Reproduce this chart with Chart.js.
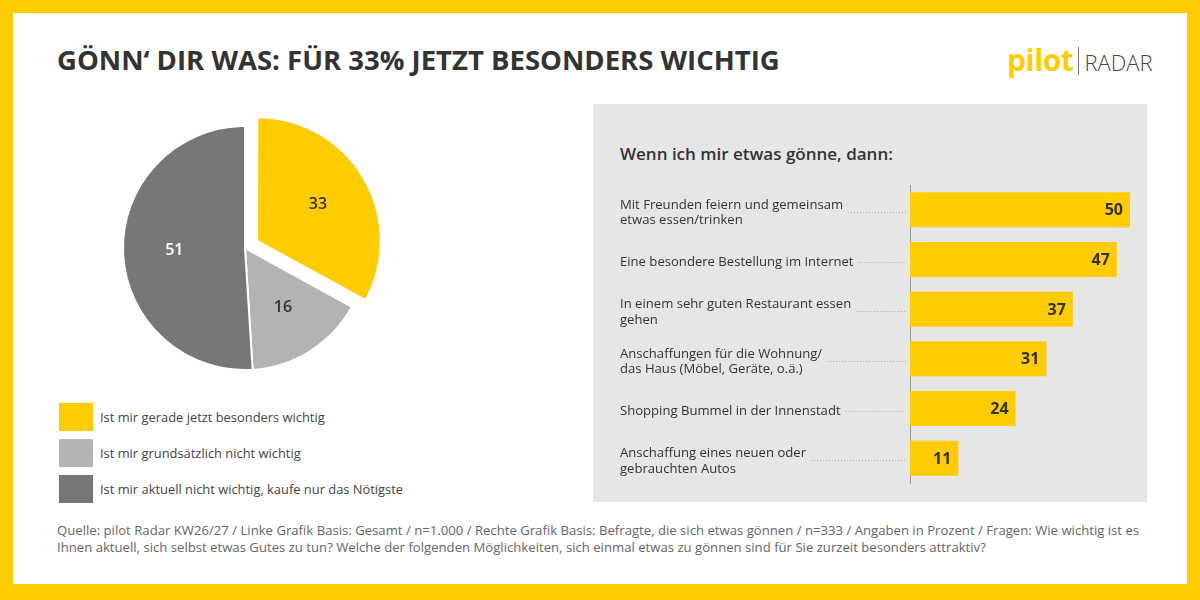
<!DOCTYPE html>
<html>
<head>
<meta charset="utf-8">
<script src="https://cdn.jsdelivr.net/npm/chart.js@4.4.1/dist/chart.umd.min.js"></script>
<style>
html, body { margin: 0; padding: 0; }
body { width: 1200px; height: 600px; background: #FFCC00; position: relative; overflow: hidden; font-family: "Open Sans", sans-serif; color: #333; }
#card { position: absolute; left: 13px; top: 13px; width: 1174px; height: 571px; background: #fff; }
#title { position: absolute; left: 57px; top: 46px; font-size: 27.5px; font-weight: 700; line-height: 1; color: #333; white-space: nowrap; }
#logo { position: absolute; left: 1007px; top: 45px; height: 40px; white-space: nowrap; line-height: 1; }
#logo .p { color: #FFCC00; font-weight: 700; font-size: 30px; letter-spacing: -0.5px; }
#logo .sep { display: inline-block; width: 1px; height: 28px; background: #777; margin: 0 5px 0 5px; vertical-align: -4px; }
#logo .r { color: #444; font-size: 22px; font-weight: 300; }
#panel { position: absolute; left: 593px; top: 104px; width: 554px; height: 398px; background: #E6E6E6; }
#panelTitle { position: absolute; left: 620px; top: 142px; font-size: 17px; font-weight: 600; color: #333; white-space: nowrap; }
#barWrap { position: absolute; left: 593px; top: 104px; width: 554px; height: 398px; }
#pieWrap { position: absolute; left: 95px; top: 98px; width: 300px; height: 300px; }
#legend { position: absolute; left: 59px; top: 403px; }
#legend .item { height: 28px; margin-bottom: 8px; display: flex; align-items: center; font-size: 12.9px; color: #444; white-space: nowrap; }
#legend .box { width: 34px; height: 28px; margin-right: 7px; }
#source { position: absolute; left: 57px; top: 522px; font-size: 13.15px; line-height: 17px; color: #666; white-space: nowrap; }
</style>
</head>
<body>
<div id="card"></div>
<div id="title">GÖNN‘ DIR WAS: FÜR 33% JETZT BESONDERS WICHTIG</div>
<div id="logo"><span class="p">pilot</span><span class="sep"></span><span class="r">RADAR</span></div>
<div id="panel"></div>
<div id="panelTitle">Wenn ich mir etwas gönne, dann:</div>
<div id="barWrap"><canvas id="barChart"></canvas></div>
<div id="pieWrap"><canvas id="pieChart"></canvas></div>
<div id="legend"></div>
<div id="source">Quelle: pilot Radar KW26/27 / Linke Grafik Basis: Gesamt / n=1.000 / Rechte Grafik Basis: Befragte, die sich etwas gönnen / n=333 / Angaben in Prozent / Fragen: Wie wichtig ist es<br>Ihnen aktuell, sich selbst etwas Gutes zu tun? Welche der folgenden Möglichkeiten, sich einmal etwas zu gönnen sind für Sie zurzeit besonders attraktiv?</div>

<script>
// left chart
var pieLabels = ["Ist mir gerade jetzt besonders wichtig", "Ist mir grundsätzlich nicht wichtig", "Ist mir aktuell nicht wichtig, kaufe nur das Nötigste"];
var pieValues = [33, 16, 51];

// right chart
var barLabels = [
  ["Mit Freunden feiern und gemeinsam", "etwas essen/trinken"],
  ["Eine besondere Bestellung im Internet"],
  ["In einem sehr guten Restaurant essen", "gehen"],
  ["Anschaffungen für die Wohnung/", "das Haus (Möbel, Geräte, o.ä.)"],
  ["Shopping Bummel in der Innenstadt"],
  ["Anschaffung eines neuen oder", "gebrauchten Autos"]
];
var barValues = [50, 47, 37, 31, 24, 11];

var FONT = '"Open Sans", sans-serif';
var pieColors = ["#FFCC00", "#B3B3B3", "#777777"];
var pieTextColors = ["#333333", "#333333", "#ffffff"];

// html legend from the pie arrays
var legend = document.getElementById("legend");
for (var i = 0; i < pieLabels.length; i++) {
  var item = document.createElement("div");
  item.className = "item";
  item.innerHTML = '<div class="box" style="background:' + pieColors[i] + '"></div>' + pieLabels[i];
  legend.appendChild(item);
}

var pieValueLabels = {
  id: "pieValueLabels",
  afterDatasetsDraw: function (chart) {
    var ctx = chart.ctx;
    var arcs = chart.getDatasetMeta(0).data;
    ctx.save();
    ctx.font = "600 16px " + FONT;
    ctx.textAlign = "center";
    ctx.textBaseline = "middle";
    arcs.forEach(function (arc, i) {
      var mid = (arc.startAngle + arc.endAngle) / 2;
      // arc draws its offset divided by 4
      var r = arc.outerRadius * 0.58 + (arc.options.offset || 0) / 4;
      ctx.fillStyle = pieTextColors[i];
      ctx.fillText(String(pieValues[i]), arc.x + Math.cos(mid) * r, arc.y + Math.sin(mid) * r);
    });
    ctx.restore();
  }
};

new Chart(document.getElementById("pieChart"), {
  type: "pie",
  data: {
    labels: pieLabels,
    datasets: [{
      data: pieValues,
      backgroundColor: pieColors,
      borderColor: "#ffffff",
      borderWidth: 2,
      offset: [56, 0, 0]
    }]
  },
  options: {
    responsive: true,
    maintainAspectRatio: false,
    animation: false,
    radius: 122,
    plugins: { legend: { display: false }, tooltip: { enabled: false } }
  },
  plugins: [pieValueLabels]
});

var barExtras = {
  id: "barExtras",
  afterDatasetsDraw: function (chart) {
    var ctx = chart.ctx;
    var yScale = chart.scales.y;
    var bars = chart.getDatasetMeta(0).data;
    ctx.save();
    // dotted leaders from label to axis
    ctx.font = "13.1px " + FONT;
    ctx.strokeStyle = "#aaaaaa";
    ctx.lineWidth = 1;
    ctx.setLineDash([1, 2]);
    barLabels.forEach(function (lines, i) {
      var y = Math.round(yScale.getPixelForValue(i)) + 2.5;
      var x0 = yScale.left + ctx.measureText(lines[0]).width + 5;
      ctx.beginPath();
      ctx.moveTo(x0, y);
      ctx.lineTo(yScale.right - 4, y);
      ctx.stroke();
    });
    ctx.setLineDash([]);
    // values at bar ends
    ctx.font = "700 16px " + FONT;
    ctx.fillStyle = "#333333";
    ctx.textAlign = "right";
    ctx.textBaseline = "middle";
    bars.forEach(function (bar, i) {
      ctx.fillText(String(barValues[i]), bar.x - 7, bar.y + 1);
    });
    ctx.restore();
  }
};

new Chart(document.getElementById("barChart"), {
  type: "bar",
  data: {
    labels: barLabels,
    datasets: [{
      data: barValues,
      backgroundColor: "#FFCC00",
      barPercentage: 1,
      categoryPercentage: 0.705
    }]
  },
  options: {
    indexAxis: "y",
    responsive: true,
    maintainAspectRatio: false,
    animation: false,
    layout: { padding: { left: 27, right: 17, top: 81, bottom: 19 } },
    scales: {
      x: { display: false, min: 0, max: 50 },
      y: {
        grid: { display: false },
        border: { display: true, color: "#999999", width: 1 },
        ticks: { crossAlign: "far", color: "#333333", padding: 0, labelOffset: 3, font: { size: 13.1, family: FONT } },
        afterFit: function (scale) { scale.width = 290; }
      }
    },
    plugins: { legend: { display: false }, tooltip: { enabled: false } }
  },
  plugins: [barExtras]
});
</script>
</body>
</html>
